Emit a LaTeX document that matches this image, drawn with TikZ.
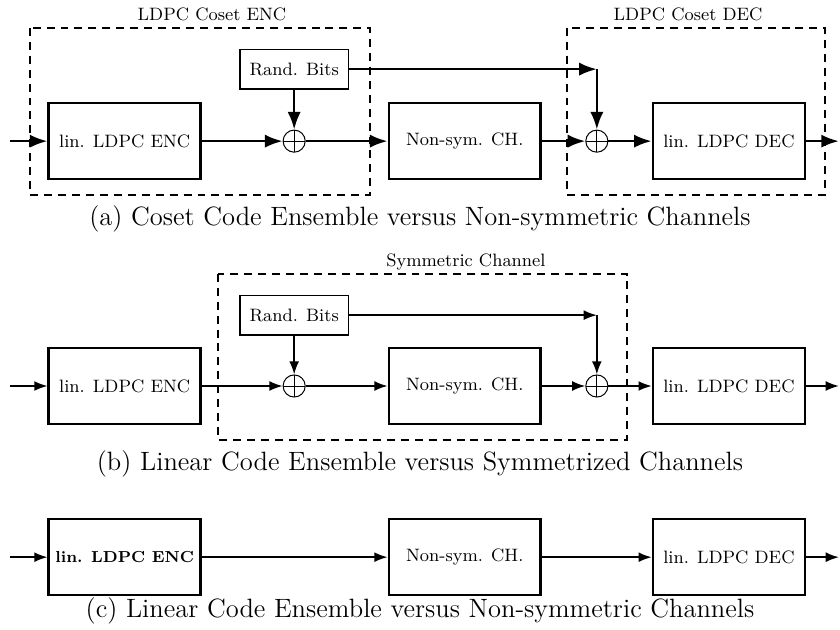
\documentclass[tikz,border=0pt]{standalone}
\usepackage{amsmath}
\usepackage{tikz}
\usetikzlibrary{positioning,arrows.meta}

\begin{document}
\begin{tikzpicture}[
    >=Latex,
    blk/.style={draw, line width=1.3pt, minimum width=26.8mm, minimum height=13.4mm, align=center, font=\small},
    rnd/.style={draw, line width=0.8pt, minimum width=19.1mm, minimum height=6.9mm, font=\small},
    sum/.style={circle, draw, line width=0.5pt, minimum size=3.9mm, inner sep=0pt,
      path picture={\draw[line width=0.5pt] (path picture bounding box.north) -- (path picture bounding box.south)
        (path picture bounding box.west) -- (path picture bounding box.east);}},
    grp/.style={draw, dashed, line width=0.8pt, dash pattern=on 4pt off 3pt},
    thk/.style={line width=1.3pt},
    thn/.style={line width=0.8pt},
    captxt/.style={font=\fontsize{13.3}{16}\selectfont},
  ]
    \useasboundingbox (0,0) rectangle (14.82,-11.11);

    % ---------- (a) ----------
    \draw[grp] (0.53,-0.49) rectangle (6.53,-3.44);
    \draw[grp] (10.00,-0.49) rectangle (14.55,-3.44);
    \node[font=\small] (la1) at (3.74,-0.26) {LDPC Coset ENC};
    \node[font=\small] (la2) at (12.14,-0.26) {LDPC Coset DEC};
    \coordinate (in1) at (0.18,-2.49);
    \node[blk] (enc1) at (2.20,-2.49) {lin. LDPC ENC};
    \node[rnd] (rb1)  at (5.19,-1.22) {Rand. Bits};
    \node[sum] (s1)   at (5.19,-2.49) {};
    \node[blk] (ch1)  at (8.20,-2.49) {Non-sym. CH.};
    \node[sum] (s2)   at (10.53,-2.49) {};
    \node[blk] (dec1) at (12.86,-2.49) {lin. LDPC DEC};
    \coordinate (out1) at (14.80,-2.49);
    \coordinate (k1) at (s2 |- rb1);
    \foreach \a/\b in {in1/enc1, enc1/s1, s1/ch1, ch1/s2, s2/dec1, dec1/out1, rb1/s1, rb1/k1, k1/s2}
      \draw[thk, ->] (\a) -- (\b);
    \node[captxt] (ca) at (7.41,-3.87) {(a) Coset Code Ensemble versus Non-symmetric Channels};

    % ---------- (b) ----------
    \draw[grp] (3.85,-4.83) rectangle (11.06,-7.76);
    \node[font=\small] (lb) at (8.22,-4.62) {Symmetric Channel};
    \coordinate (in2) at (0.18,-6.81);
    \node[blk] (enc2) at (2.20,-6.81) {lin. LDPC ENC};
    \node[rnd] (rb2)  at (5.19,-5.56) {Rand. Bits};
    \node[sum] (s3)   at (5.19,-6.81) {};
    \node[blk] (ch2)  at (8.20,-6.81) {Non-sym. CH.};
    \node[sum] (s4)   at (10.53,-6.81) {};
    \node[blk] (dec2) at (12.86,-6.81) {lin. LDPC DEC};
    \coordinate (out2) at (14.80,-6.81);
    \coordinate (k2) at (s4 |- rb2);
    \foreach \a/\b in {in2/enc2, enc2/s3, s3/ch2, ch2/s4, s4/dec2, dec2/out2, rb2/s3, rb2/k2, k2/s4}
      \draw[thn, ->] (\a) -- (\b);
    \node[captxt] (cb) at (7.41,-8.19) {(b) Linear Code Ensemble versus Symmetrized Channels};

    % ---------- (c) ----------
    \coordinate (in3) at (0.18,-9.83);
    \node[blk, font=\footnotesize\bfseries] (enc3) at (2.20,-9.83) {lin. LDPC ENC};
    \node[blk] (ch3)  at (8.20,-9.83) {Non-sym. CH.};
    \node[blk] (dec3) at (12.86,-9.83) {lin. LDPC DEC};
    \coordinate (out3) at (14.80,-9.83);
    \foreach \a/\b in {in3/enc3, enc3/ch3, ch3/dec3, dec3/out3}
      \draw[thn, ->] (\a) -- (\b);
    \node[captxt] (cc) at (7.41,-10.78) {(c) Linear Code Ensemble versus Non-symmetric Channels};
  \end{tikzpicture}
\end{document}
